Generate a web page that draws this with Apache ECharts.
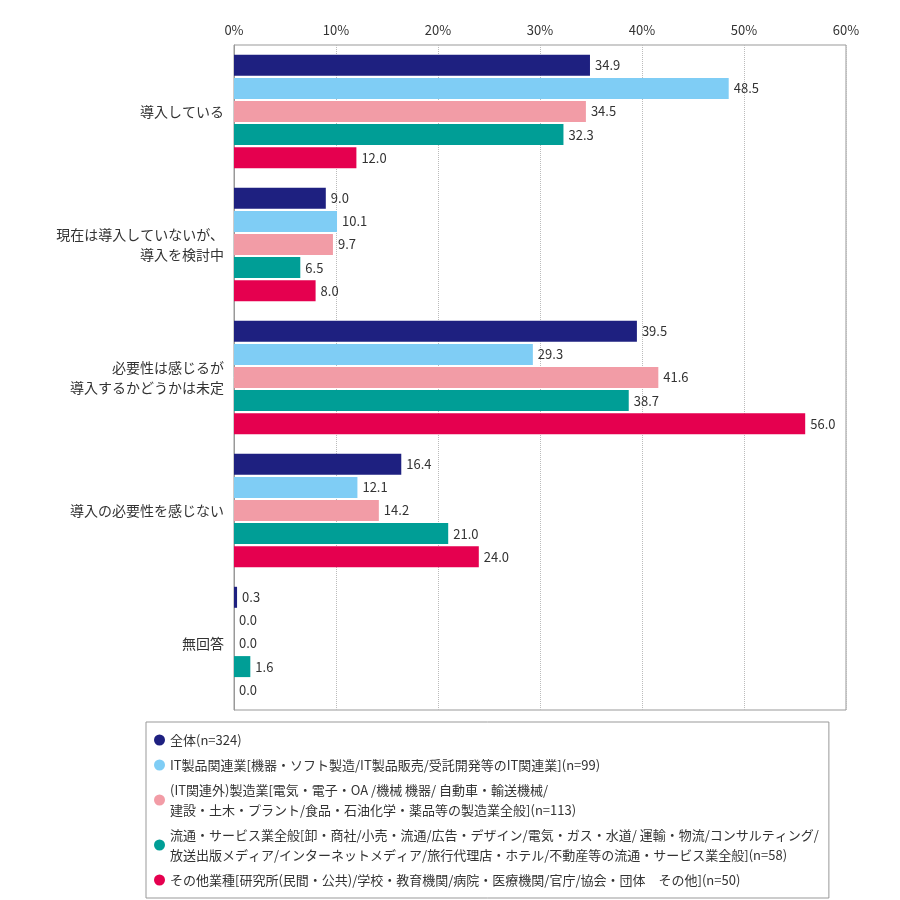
<!DOCTYPE html><html><head><meta charset="utf-8"><script src="https://cdn.jsdelivr.net/npm/echarts@6/dist/echarts.min.js"></script></head><body style="margin:0"><div id="c" style="width:900px;height:900px"></div><script>
const categories=["導入している","現在は導入していないが、\n導入を検討中","必要性は感じるが\n導入するかどうかは未定","導入の必要性を感じない","無回答"];
const seriesNames=["全体(n=324)","IT製品関連業[機器・ソフト製造/IT製品販売/受託開発等のIT関連業](n=99)","(IT関連外)製造業[電気・電子・OA /機械 機器/ 自動車・輸送機械/\n建設・土木・プラント/食品・石油化学・薬品等の製造業全般](n=113)","流通・サービス業全般[卸・商社/小売・流通/広告・デザイン/電気・ガス・水道/ 運輸・物流/コンサルティング/\n放送出版メディア/インターネットメディア/旅行代理店・ホテル/不動産等の流通・サービス業全般](n=58)","その他業種[研究所(民間・公共)/学校・教育機関/病院・医療機関/官庁/協会・団体　その他](n=50)"];
const v0=[34.9,9.0,39.5,16.4,0.3];
const v1=[48.5,10.1,29.3,12.1,0.0];
const v2=[34.5,9.7,41.6,14.2,0.0];
const v3=[32.3,6.5,38.7,21.0,1.6];
const v4=[12.0,8.0,56.0,24.0,0.0];
const colors=["#1e2080","#7fcdf5","#f29ca6","#009e96","#e5004f"];
const vals=[v0,v1,v2,v3,v4];
const c=echarts.init(document.getElementById('c'));
c.setOption({textStyle:{fontFamily:"Noto Sans CJK JP"},animation:false,
grid:{left:234,right:54,top:45,bottom:190,show:true,borderColor:'#999'},
legend:{orient:'vertical',left:146,top:722,width:700,padding:[8,10,8,8],borderColor:'#999',borderWidth:1,icon:'circle',itemWidth:11,itemHeight:11,itemGap:5,textStyle:{fontSize:13,color:'#333',lineHeight:20},data:seriesNames},
xAxis:{type:'value',position:'top',min:0,max:60,interval:10,axisLabel:{formatter:'{value}%',fontSize:13,color:'#333'},splitLine:{lineStyle:{type:'dotted',color:'#bbb'}},axisLine:{show:false},axisTick:{show:false}},
yAxis:{type:'category',inverse:true,data:categories,axisTick:{show:false},axisLine:{lineStyle:{color:'#999'}},axisLabel:{fontSize:14,color:'#333',margin:10,lineHeight:20}},
series:seriesNames.map((n,i)=>({name:n,type:'bar',data:vals[i],barWidth:21,barGap:'10%',itemStyle:{color:colors[i]},label:{show:true,position:'right',fontSize:13,color:'#333',formatter:p=>p.value.toFixed(1)}}))
});
</script></body></html>
